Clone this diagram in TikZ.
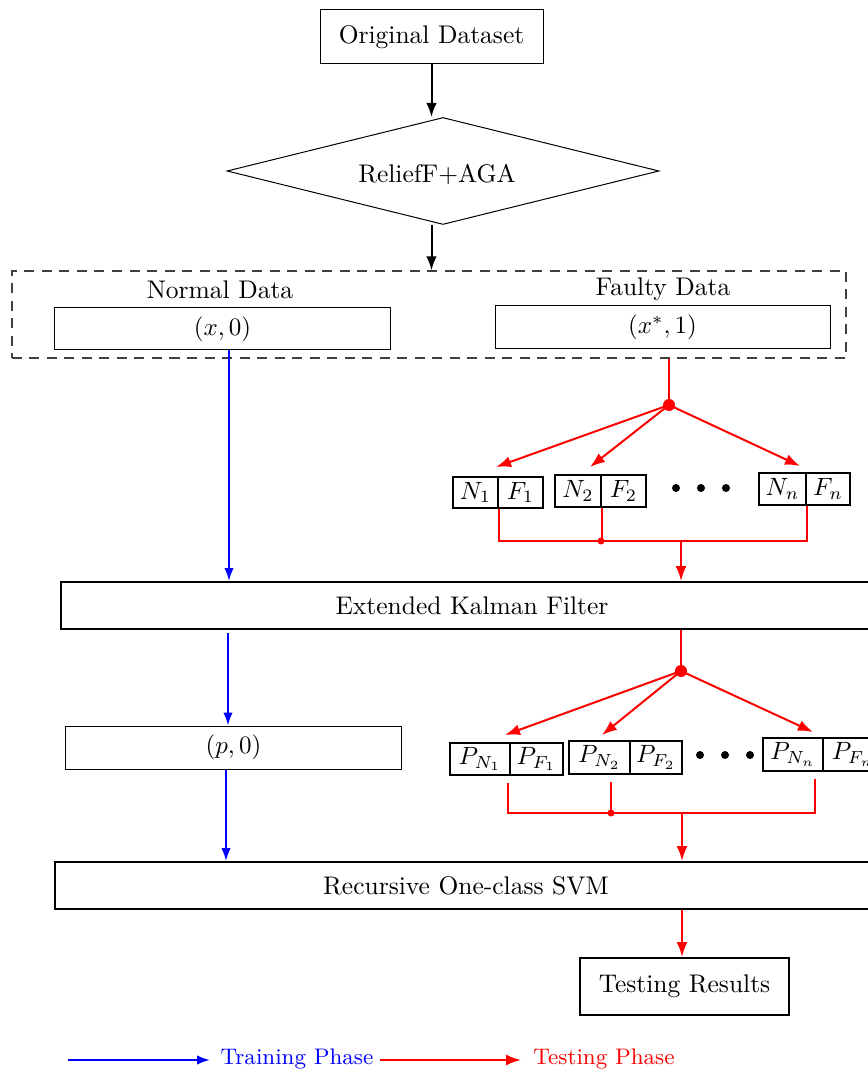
\documentclass[tikz,border=0pt]{standalone}
\usetikzlibrary{arrows.meta,shapes.geometric}
\begin{document}
\begin{tikzpicture}[x=0.4pt,y=-0.4pt,
  every node/.style={font=\fontsize{10.2pt}{12pt}\selectfont},
  thinbox/.style={draw,line width=0.4pt,inner sep=0pt},
  thickbox/.style={draw,line width=0.8pt,inner sep=0pt},
  cell/.style={draw,line width=0.8pt,inner sep=0pt,minimum height=12.6pt},
  flow/.style={line width=0.8pt,-{Latex[length=5.6pt,width=4.2pt]}},
  train/.style={blue,line width=0.8pt,-{Latex[length=5.2pt,width=3.8pt]}},
  test/.style={red,line width=0.8pt,-{Latex[length=6pt,width=4.4pt]}},
  testl/.style={red,line width=0.8pt},
  bigdot/.style={circle,fill=red,inner sep=0pt,minimum size=4.8pt},
  smalldot/.style={circle,fill=red,inner sep=0pt,minimum size=2.8pt},
  etc/.style={circle,fill=black,inner sep=0pt,minimum size=3.2pt},
  legend/.style={font=\small}]
\useasboundingbox (0,0) rectangle (867,1070);

% top part
\node[thinbox,minimum width=89.2pt,minimum height=21.6pt] (od) at (431.5,37) {Original Dataset};
\node[draw,line width=0.4pt,diamond,aspect=4.04,inner sep=0pt,minimum width=172.8pt,minimum height=42.8pt] (dia) at (443,171) {};
\node (dialabel) at (437,174) {ReliefF+AGA};
\node[draw,black!75,dash pattern=on 4pt off 3pt,line width=0.45pt,minimum width=333.6pt,minimum height=34.8pt,inner sep=0pt] (group) at (429,314.5) {};
\node (nd) at (220,290) {Normal Data};
\node (fd) at (663,289) {Faulty Data};
\node[thinbox,minimum width=134pt,minimum height=16.8pt] (xbox) at (222.5,329) {$(x,0)$};
\node[thinbox,minimum width=134pt,minimum height=17.2pt] (xsbox) at (662.5,327.5) {$(x^{*},1)$};

\draw[flow] (od.south) -- (dia.north -| od.south);
\draw[flow] (dia.south -| od.south) -- (group.north -| od.south);

% N/F cells
\node[cell,minimum width=18pt] (N1) at (475.5,492.5) {$N_1$};
\node[cell,minimum width=18pt] (F1) at (520.5,492.5) {$F_1$};
\node[cell,minimum width=18.4pt] (N2) at (578,491) {$N_2$};
\node[cell,minimum width=18pt] (F2) at (623.5,491) {$F_2$};
\node[cell,minimum width=18.8pt] (Nn) at (782.5,489) {$N_n$};
\node[cell,minimum width=17.6pt] (Fn) at (828,489) {$F_n$};
\node[etc] (e1) at (676,488) {};
\node[etc] (e2) at (701,488) {};
\node[etc] (e3) at (726,488) {};

\node[bigdot] (d1) at (669,405) {};
\coordinate (t1) at (496,467);
\coordinate (t2) at (590,467);
\coordinate (t3) at (800,466);
\draw[testl] (group.south -| d1) -- (d1.center);
\draw[test] (d1.center) -- (t1);
\draw[test] (d1.center) -- (t2);
\draw[test] (d1.center) -- (t3);

\node[smalldot] (j1) at (601,541) {};
\coordinate (m1) at (681,541);
\draw[testl] (N1.south east) |- (j1.center) -| (Nn.south east);
\draw[testl] (N2.south east) -- (N2.south east |- j1.center);

% EKF
\node[thickbox,minimum width=328.8pt,minimum height=18.8pt] (ekf) at (472,605.5) {Extended Kalman Filter};
\draw[test] (m1) -- (m1 |- ekf.north);
\coordinate (b1) at (229,0);
\draw[train] (xbox.south -| b1) -- (ekf.north -| b1);

% second stage
\node[thinbox,minimum width=134pt,minimum height=17.2pt] (pbox) at (233.5,747.5) {$(p,0)$};
\coordinate (b2) at (228,0);
\coordinate (b3) at (226,0);
\draw[train] ([yshift=-1.2pt]ekf.south -| b2) -- (pbox.north -| b2);

\node[cell,minimum width=24pt,minimum height=12.8pt] (PN1) at (480,759) {$P_{N_1}$};
\node[cell,minimum width=21.2pt,minimum height=12.8pt] (PF1) at (536.5,759) {$P_{F_1}$};
\node[cell,minimum width=24.4pt,minimum height=13.2pt] (PN2) at (599.5,757.5) {$P_{N_2}$};
\node[cell,minimum width=20.8pt,minimum height=13.2pt] (PF2) at (656,757.5) {$P_{F_2}$};
\node[cell,minimum width=24pt,minimum height=13.2pt] (PNn) at (793,754.5) {$P_{N_n}$};
\node[cell,minimum width=24pt,minimum height=13.2pt] (PFn) at (853,754.5) {$P_{F_n}$};
\node[etc] (f1) at (700,755) {};
\node[etc] (f2) at (725,755) {};
\node[etc] (f3) at (750,755) {};

\node[bigdot] (d2) at (681,671) {};
\coordinate (u1) at (505,735);
\coordinate (u2) at (602,735);
\coordinate (u3) at (813,732);
\draw[testl] (ekf.south -| d2) -- (d2.center);
\draw[test] (d2.center) -- (u1);
\draw[test] (d2.center) -- (u2);
\draw[test] (d2.center) -- (u3);

\coordinate (c1) at (508,783);
\coordinate (c2) at (611,782);
\coordinate (c3) at (815,779);
\node[smalldot] (j2) at (611,813) {};
\coordinate (m2) at (682,813);
\draw[testl] (c1) |- (j2.center) -| (c3);
\draw[testl] (c2) -- (j2.center);

% SVM
\node[thickbox,minimum width=328.8pt,minimum height=18.8pt] (svm) at (466,885.5) {Recursive One-class SVM};
\draw[test] (m2) -- (m2 |- svm.north);
\draw[train] (pbox.south -| b3) -- (svm.north -| b3);

\node[thickbox,minimum width=83.6pt,minimum height=22.8pt] (tr) at (684.5,986.5) {Testing Results};
\draw[test] (svm.south -| m2) -- (tr.north -| m2);

% legend
\coordinate (la) at (68,1060);
\coordinate (lb) at (210,1060);
\coordinate (lc) at (380,1060);
\coordinate (ld) at (521,1060);
\draw[train] (la) -- (lb);
\node[blue,legend] (lt) at (297,1059) {Training Phase};
\draw[test] (lc) -- (ld);
\node[red,legend] (ls) at (604,1059) {Testing Phase};
\end{tikzpicture}
\end{document}
